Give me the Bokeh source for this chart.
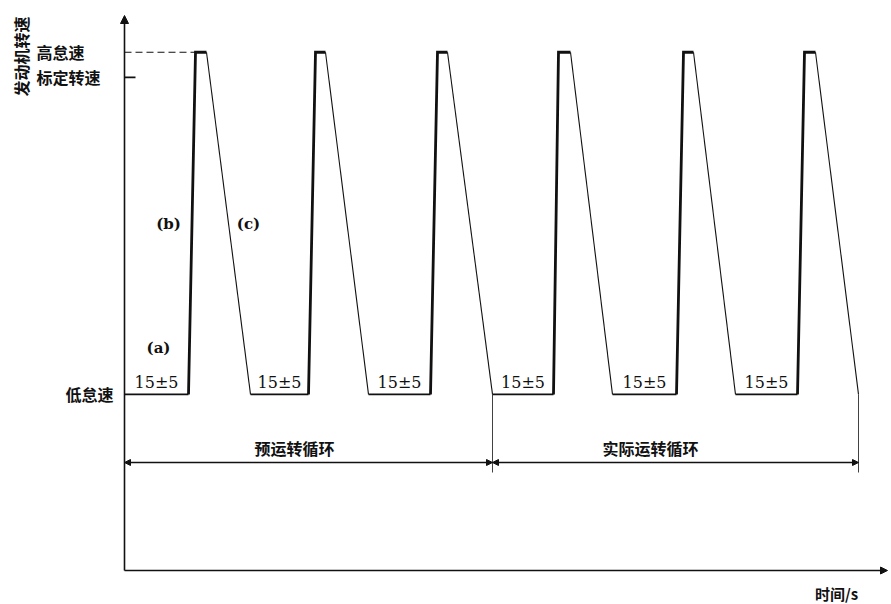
import math
from bokeh.plotting import figure
from bokeh.models import Range1d, Arrow, NormalHead
from bokeh.core.properties import value
from bokeh.embed import file_html
from bokeh.resources import INLINE

# ---------------- data ----------------
low_idle = 700          # 低怠速
rated_speed = 1960      # 标定转速
high_idle = 2060        # 高怠速
rise_start = [16, 46, 76.5, 107.25, 138, 168.25]     # s
top_start = [17.75, 47.75, 78.25, 108.5, 139.75, 170]
top_end = [20.5, 50.25, 80.75, 111.5, 142.25, 172.75]
fall_end = [31.5, 61, 92, 122, 152.75, 183.5]
idle_label = "15±5"
level_names = ["高怠速", "标定转速", "低怠速"]
phase_names = ["预运转循环", "实际运转循环"]
phase_cycles = [3, 3]
step_labels = ["(a)", "(b)", "(c)"]
y_title = "发动机转速"
x_title = "时间/s"

# ---------------- layout ----------------
W, H = 891, 604
PX_PER_S = 4.0          # horizontal pixels per second
UNITS_PER_PX = 3.975    # speed units per vertical pixel
OX, OY = 124, 570       # origin inside the figure (pixels from top-left)


def dx(pix):
    return pix / PX_PER_S


def dy(pix):
    return pix * UNITS_PER_PX


p = figure(width=W, height=H, output_backend="svg", toolbar_location=None,
           x_axis_type=None, y_axis_type=None,
           x_range=Range1d(-OX / PX_PER_S, (W - OX) / PX_PER_S),
           y_range=Range1d(-(H - OY) * UNITS_PER_PX, OY * UNITS_PER_PX),
           min_border=0, min_border_left=0, min_border_right=0,
           min_border_top=0, min_border_bottom=0)
p.outline_line_color = None
p.grid.visible = False
p.background_fill_color = "white"
p.border_fill_color = "white"

black = "#111111"
cjk = value("Noto Sans CJK SC")

# axes with arrows
y_top = dy(OY - 15)
x_end = dx(887 - OX)
p.add_layout(Arrow(end=NormalHead(size=8, fill_color=black, line_color=black),
                   x_start=0, y_start=0, x_end=0, y_end=y_top,
                   line_width=1.6, line_color=black))
p.add_layout(Arrow(end=NormalHead(size=7, fill_color=black, line_color=black),
                   x_start=0, y_start=0, x_end=x_end, y_end=0,
                   line_width=1.6, line_color=black))

# rated speed tick
p.segment(x0=[0], y0=[rated_speed], x1=[dx(11)], y1=[rated_speed],
          line_color=black, line_width=1.6)
# dashed high idle guide
p.segment(x0=[0], y0=[high_idle], x1=[top_start[0]], y1=[high_idle],
          line_color=black, line_width=1.2, line_dash="7 4")

# low idle segments
low_x0 = [0] + fall_end[:-1]
p.segment(x0=low_x0, y0=[low_idle] * 6, x1=rise_start, y1=[low_idle] * 6,
          line_color=black, line_width=1.6)
# rises + plateaus (thick)
p.multi_line(xs=[[a, b, c] for a, b, c in zip(rise_start, top_start, top_end)],
             ys=[[low_idle, high_idle, high_idle]] * 6,
             line_color=black, line_width=2.8, line_join="miter")
# falls (thin)
p.segment(x0=top_end, y0=[high_idle] * 6, x1=fall_end, y1=[low_idle] * 6,
          line_color=black, line_width=1.1)

# idle duration labels
centers = [(a + b) / 2 for a, b in zip(low_x0, rise_start)]
p.text(x=centers, y=[low_idle + dy(12)] * 6, text=[idle_label] * 6,
       text_font=value("DejaVu Serif"), text_font_size="16px",
       text_align="center", text_baseline="middle", text_color=black)

# step labels (a) (b) (c)
p.text(x=[rise_start[0] - dx(30), rise_start[0] - dx(20), top_end[0] + dx(42)],
       y=[low_idle + dy(46), low_idle + dy(170), low_idle + dy(170)],
       text=step_labels, text_font=value("DejaVu Serif"), text_font_style="bold",
       text_font_size="15px", text_align="center", text_baseline="middle",
       text_color=black)

# phase dimension lines
bounds = [0]
acc = 0
for n in phase_cycles:
    acc += n
    bounds.append(fall_end[acc - 1])
ext_bottom = dy(98)
p.segment(x0=bounds[1:], y0=[low_idle] * 2, x1=bounds[1:], y1=[ext_bottom] * 2,
          line_color=black, line_width=0.8)
dim_y = dy(108)
for a, b, name in zip(bounds[:-1], bounds[1:], phase_names):
    p.add_layout(Arrow(start=NormalHead(size=6, fill_color=black, line_color=black),
                       end=NormalHead(size=6, fill_color=black, line_color=black),
                       x_start=a, y_start=dim_y, x_end=b, y_end=dim_y,
                       line_width=1.4, line_color=black))
p.text(x=[bounds[0] + dx(170), bounds[1] + dx(158)], y=[dy(123)] * 2,
       text=phase_names, text_font=cjk, text_font_style="bold",
       text_font_size="16px", text_align="center", text_baseline="middle",
       text_color=black)

# level labels
p.text(x=[dx(-88), dx(-88)], y=[high_idle, rated_speed], text=level_names[:2],
       text_font=cjk, text_font_style="bold", text_font_size="16px",
       text_align="left", text_baseline="middle", text_color=black)
p.text(x=[dx(-11)], y=[low_idle], text=level_names[2:],
       text_font=cjk, text_font_style="bold", text_font_size="16px",
       text_align="right", text_baseline="middle", text_color=black)

# axis titles
p.text(x=[dx(-104)], y=[dy(OY - 56)], text=[y_title], angle=math.pi / 2,
       text_font=cjk, text_font_style="bold", text_font_size="16px",
       text_align="center", text_baseline="middle", text_color=black)
p.text(x=[dx(712)], y=[dy(-23)], text=[x_title],
       text_font=cjk, text_font_style="bold", text_font_size="15px",
       text_align="center", text_baseline="middle", text_color=black)

open("out.html", "w").write(file_html(p, INLINE))
